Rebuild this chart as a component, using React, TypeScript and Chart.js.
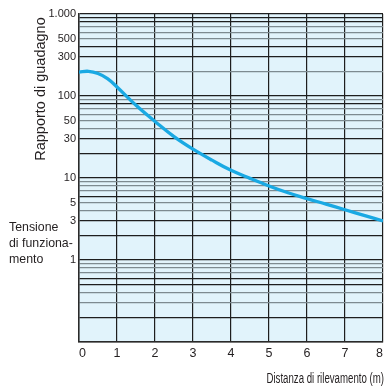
import React, { useEffect, useRef } from "react";
import { Chart, registerables } from "chart.js";

Chart.register(...registerables);

// Data
const distances = [0, 0.25, 0.5, 0.75, 1, 1.5, 2, 2.5, 3, 3.5, 4, 4.5, 5, 5.5, 6, 6.5, 7, 7.5, 8];
const gainRatio = [196, 200, 188, 163, 129, 77, 49, 32, 22.5, 16.5, 12.4, 9.9, 8, 6.6, 5.6, 4.8, 4.1, 3.5, 3.0];

const xTicks = [0, 1, 2, 3, 4, 5, 6, 7, 8];
const yLabelValues = [1000, 500, 300, 100, 50, 30, 10, 5, 3, 1];
const yLabelTexts = ["1.000", "500", "300", "100", "50", "30", "10", "5", "3", "1"];
const decades = [0.1, 1, 10, 100];
const mantissas = [1, 2, 3, 4, 5, 6, 7, 8, 9];
const darkGridValues = [1000, 900, 800, 400, 300, 100, 80, 30, 20, 10, 6, 3, 2, 1, 0.6, 0.5, 0.2, 0.1];

const yTitle = "Rapporto di guadagno";
const xTitle = "Distanza di rilevamento (m)";
const sideNote = ["Tensione", "di funziona-", "mento"];

const FONT = "'Liberation Sans', Arial, Helvetica, sans-serif";

const gridValues: number[] = [];
decades.forEach((d) => mantissas.forEach((m) => gridValues.push(+(d * m).toPrecision(3))));
gridValues.push(1000);

const near = (a: number, b: number) => Math.abs(a - b) / b < 1e-6;

function drawText(
  ctx: CanvasRenderingContext2D,
  text: string,
  x: number,
  y: number,
  size: number,
  scaleX: number,
  align: CanvasTextAlign,
  baseline: CanvasTextBaseline,
  rotate = false
) {
  ctx.save();
  ctx.translate(x, y);
  if (rotate) ctx.rotate(-Math.PI / 2);
  ctx.scale(scaleX, 1);
  ctx.font = `${size}px ${FONT}`;
  ctx.fillStyle = "#231f20";
  ctx.textAlign = align;
  ctx.textBaseline = baseline;
  ctx.fillText(text, 0, 0);
  ctx.restore();
}

const bgPlugin = {
  id: "plotBg",
  beforeDraw(chart: any) {
    const { ctx, chartArea } = chart;
    ctx.save();
    ctx.fillStyle = "#e1f3fb";
    ctx.fillRect(chartArea.left, chartArea.top, chartArea.right - chartArea.left, chartArea.bottom - chartArea.top);
    ctx.restore();
  },
  afterDraw(chart: any) {
    const ctx = chart.ctx as CanvasRenderingContext2D;
    drawText(ctx, yTitle, 41, 89, 14.5, 1, "center", "middle", true);
    drawText(ctx, xTitle, 384, 383, 14, 0.69, "right", "alphabetic");
    const ys = [227, 243.5, 259];
    sideNote.forEach((t, i) => drawText(ctx, t, 9, ys[i], 13, 0.95, "left", "middle"));
  },
};

export default function App() {
  const ref = useRef<HTMLCanvasElement | null>(null);

  useEffect(() => {
    if (!ref.current) return;
    const chart = new Chart(ref.current, {
      type: "line",
      data: {
        datasets: [
          {
            data: distances.map((x, i) => ({ x, y: gainRatio[i] })),
            borderColor: "#1aa9e3",
            borderWidth: 3.3,
            pointRadius: 0,
            tension: 0.4,
            fill: false,
          },
        ],
      },
      options: {
        animation: false,
        responsive: false,
        layout: { padding: { top: 14, right: 7, left: 0, bottom: 0 } },
        plugins: { legend: { display: false }, tooltip: { enabled: false }, title: { display: false } },
        scales: {
          x: {
            type: "linear",
            min: 0,
            max: 8,
            afterBuildTicks: (scale: any) => {
              scale.ticks = xTicks.map((v) => ({ value: v }));
            },
            afterFit: (scale: any) => {
              scale.height = 45;
            },
            ticks: {
              align: "inner",
              padding: 4,
              color: "#231f20",
              font: { family: FONT, size: 12.5 },
              callback: (v: any) => String(v),
            },
            grid: { color: "#1e1e1e", lineWidth: 1.2, drawTicks: false },
            border: { color: "#2a2a2a", width: 1.5 },
          },
          y: {
            type: "logarithmic",
            min: 0.1,
            max: 1000,
            afterBuildTicks: (scale: any) => {
              scale.ticks = gridValues.map((v) => ({ value: v }));
            },
            afterFit: (scale: any) => {
              scale.width = 79;
            },
            ticks: {
              autoSkip: false,
              padding: 3,
              color: "#231f20",
              font: { family: FONT, size: 11 },
              callback: (v: any) => {
                const idx = yLabelValues.findIndex((l) => near(Number(v), l));
                return idx >= 0 ? yLabelTexts[idx] : "";
              },
            },
            grid: {
              drawTicks: false,
              lineWidth: 1.3,
              color: (c: any) => {
                const v = c.tick ? c.tick.value : 0;
                return darkGridValues.some((d) => near(v, d)) ? "#1e1e1e" : "#7d8a90";
              },
            },
            border: { color: "#2a2a2a", width: 1.5 },
          },
        },
      },
      plugins: [bgPlugin],
    } as any);
    return () => chart.destroy();
  }, []);

  return (
    <div style={{ position: "fixed", left: 0, top: 0, width: 390, height: 387, background: "#fff" }}>
      <canvas ref={ref} width={390} height={387} style={{ display: "block", width: 390, height: 387 }} />
    </div>
  );
}
